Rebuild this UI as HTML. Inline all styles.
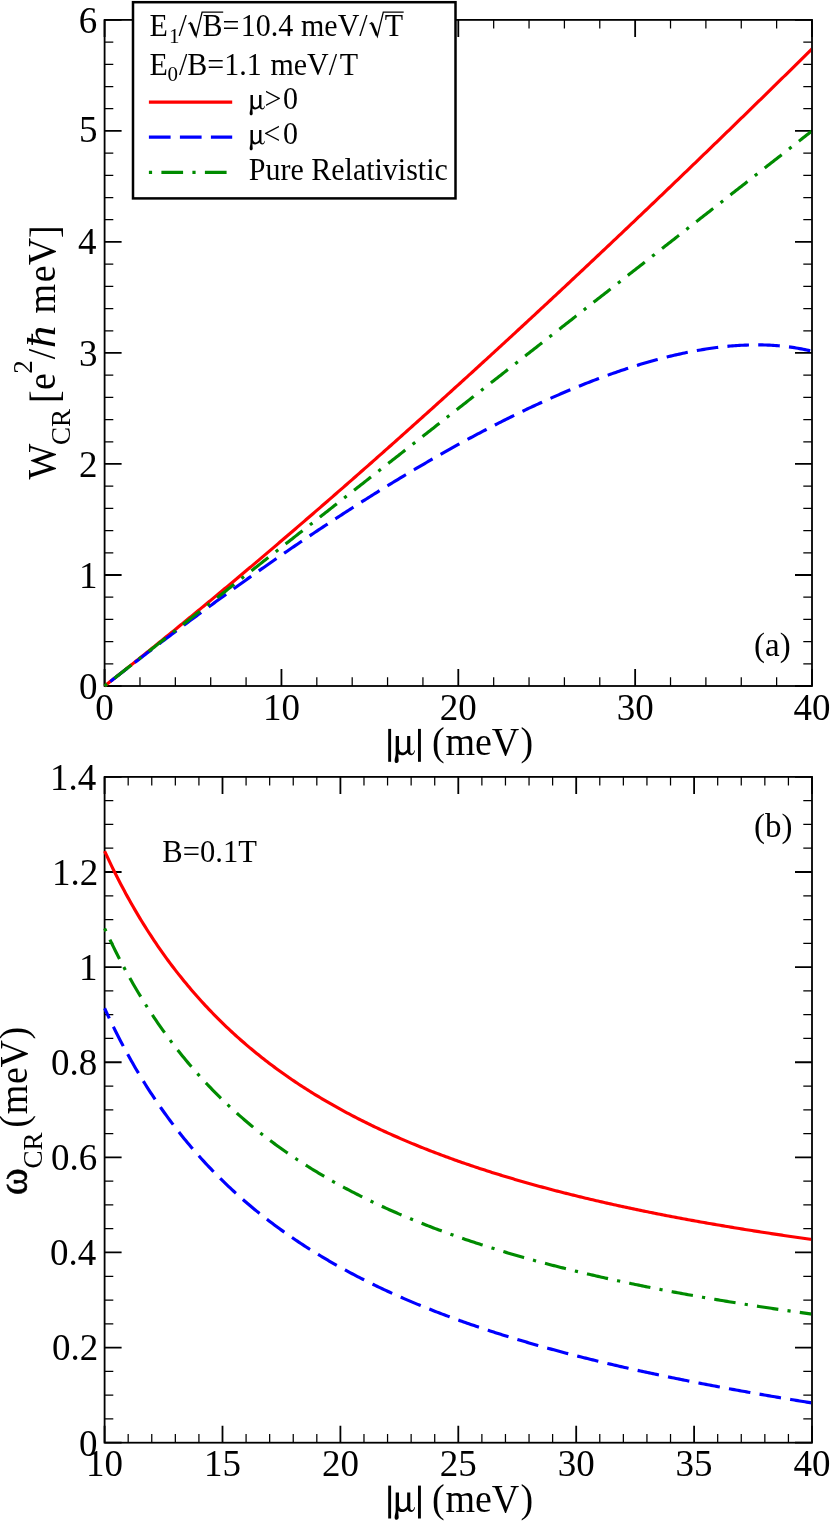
<!DOCTYPE html>
<html><head><meta charset="utf-8"><title>chart</title>
<style>html,body{margin:0;padding:0;background:#fff;}body{width:830px;height:1523px;overflow:hidden;}svg{display:block;will-change:transform;}text{font-family:"Liberation Serif",serif;fill:#000;}</style>
</head><body>
<svg width="830" height="1523" viewBox="0 0 830 1523">
<rect x="0" y="0" width="830" height="1523" fill="#fff"/>
<defs><clipPath id="ca"><rect x="100.60" y="15.90" width="710.50" height="674.10"/></clipPath>
<clipPath id="cb"><rect x="100.60" y="772.90" width="710.50" height="673.80"/></clipPath></defs>
<path d="M139.97,686.00 L139.97,677.30 M139.97,19.90 L139.97,28.60 M175.34,686.00 L175.34,677.30 M175.34,19.90 L175.34,28.60 M210.71,686.00 L210.71,677.30 M210.71,19.90 L210.71,28.60 M246.08,686.00 L246.08,677.30 M246.08,19.90 L246.08,28.60 M316.82,686.00 L316.82,677.30 M316.82,19.90 L316.82,28.60 M352.19,686.00 L352.19,677.30 M352.19,19.90 L352.19,28.60 M387.56,686.00 L387.56,677.30 M387.56,19.90 L387.56,28.60 M422.93,686.00 L422.93,677.30 M422.93,19.90 L422.93,28.60 M493.67,686.00 L493.67,677.30 M493.67,19.90 L493.67,28.60 M529.04,686.00 L529.04,677.30 M529.04,19.90 L529.04,28.60 M564.41,686.00 L564.41,677.30 M564.41,19.90 L564.41,28.60 M599.78,686.00 L599.78,677.30 M599.78,19.90 L599.78,28.60 M670.52,686.00 L670.52,677.30 M670.52,19.90 L670.52,28.60 M705.89,686.00 L705.89,677.30 M705.89,19.90 L705.89,28.60 M741.26,686.00 L741.26,677.30 M741.26,19.90 L741.26,28.60 M776.63,686.00 L776.63,677.30 M776.63,19.90 L776.63,28.60 M104.60,663.80 L113.30,663.80 M812.00,663.80 L803.30,663.80 M104.60,641.59 L113.30,641.59 M812.00,641.59 L803.30,641.59 M104.60,619.39 L113.30,619.39 M812.00,619.39 L803.30,619.39 M104.60,597.19 L113.30,597.19 M812.00,597.19 L803.30,597.19 M104.60,552.78 L113.30,552.78 M812.00,552.78 L803.30,552.78 M104.60,530.58 L113.30,530.58 M812.00,530.58 L803.30,530.58 M104.60,508.37 L113.30,508.37 M812.00,508.37 L803.30,508.37 M104.60,486.17 L113.30,486.17 M812.00,486.17 L803.30,486.17 M104.60,441.76 L113.30,441.76 M812.00,441.76 L803.30,441.76 M104.60,419.56 L113.30,419.56 M812.00,419.56 L803.30,419.56 M104.60,397.36 L113.30,397.36 M812.00,397.36 L803.30,397.36 M104.60,375.15 L113.30,375.15 M812.00,375.15 L803.30,375.15 M104.60,330.75 L113.30,330.75 M812.00,330.75 L803.30,330.75 M104.60,308.54 L113.30,308.54 M812.00,308.54 L803.30,308.54 M104.60,286.34 L113.30,286.34 M812.00,286.34 L803.30,286.34 M104.60,264.14 L113.30,264.14 M812.00,264.14 L803.30,264.14 M104.60,219.73 L113.30,219.73 M812.00,219.73 L803.30,219.73 M104.60,197.53 L113.30,197.53 M812.00,197.53 L803.30,197.53 M104.60,175.32 L113.30,175.32 M812.00,175.32 L803.30,175.32 M104.60,153.12 L113.30,153.12 M812.00,153.12 L803.30,153.12 M104.60,108.71 L113.30,108.71 M812.00,108.71 L803.30,108.71 M104.60,86.51 L113.30,86.51 M812.00,86.51 L803.30,86.51 M104.60,64.31 L113.30,64.31 M812.00,64.31 L803.30,64.31 M104.60,42.10 L113.30,42.10 M812.00,42.10 L803.30,42.10" stroke="#000" stroke-width="1.25" fill="none"/>
<path d="M104.60,686.00 L104.60,669.00 M104.60,19.90 L104.60,36.90 M281.45,686.00 L281.45,669.00 M281.45,19.90 L281.45,36.90 M458.30,686.00 L458.30,669.00 M458.30,19.90 L458.30,36.90 M635.15,686.00 L635.15,669.00 M635.15,19.90 L635.15,36.90 M812.00,686.00 L812.00,669.00 M812.00,19.90 L812.00,36.90 M104.60,686.00 L121.60,686.00 M812.00,686.00 L795.00,686.00 M104.60,574.98 L121.60,574.98 M812.00,574.98 L795.00,574.98 M104.60,463.97 L121.60,463.97 M812.00,463.97 L795.00,463.97 M104.60,352.95 L121.60,352.95 M812.00,352.95 L795.00,352.95 M104.60,241.93 L121.60,241.93 M812.00,241.93 L795.00,241.93 M104.60,130.92 L121.60,130.92 M812.00,130.92 L795.00,130.92 M104.60,19.90 L121.60,19.90 M812.00,19.90 L795.00,19.90" stroke="#000" stroke-width="1.80" fill="none"/>
<rect x="104.60" y="19.90" width="707.40" height="666.10" fill="none" stroke="#000" stroke-width="1.80"/>
<path d="M128.18,1442.70 L128.18,1434.00 M128.18,776.90 L128.18,785.60 M151.76,1442.70 L151.76,1434.00 M151.76,776.90 L151.76,785.60 M175.34,1442.70 L175.34,1434.00 M175.34,776.90 L175.34,785.60 M198.92,1442.70 L198.92,1434.00 M198.92,776.90 L198.92,785.60 M246.08,1442.70 L246.08,1434.00 M246.08,776.90 L246.08,785.60 M269.66,1442.70 L269.66,1434.00 M269.66,776.90 L269.66,785.60 M293.24,1442.70 L293.24,1434.00 M293.24,776.90 L293.24,785.60 M316.82,1442.70 L316.82,1434.00 M316.82,776.90 L316.82,785.60 M363.98,1442.70 L363.98,1434.00 M363.98,776.90 L363.98,785.60 M387.56,1442.70 L387.56,1434.00 M387.56,776.90 L387.56,785.60 M411.14,1442.70 L411.14,1434.00 M411.14,776.90 L411.14,785.60 M434.72,1442.70 L434.72,1434.00 M434.72,776.90 L434.72,785.60 M481.88,1442.70 L481.88,1434.00 M481.88,776.90 L481.88,785.60 M505.46,1442.70 L505.46,1434.00 M505.46,776.90 L505.46,785.60 M529.04,1442.70 L529.04,1434.00 M529.04,776.90 L529.04,785.60 M552.62,1442.70 L552.62,1434.00 M552.62,776.90 L552.62,785.60 M599.78,1442.70 L599.78,1434.00 M599.78,776.90 L599.78,785.60 M623.36,1442.70 L623.36,1434.00 M623.36,776.90 L623.36,785.60 M646.94,1442.70 L646.94,1434.00 M646.94,776.90 L646.94,785.60 M670.52,1442.70 L670.52,1434.00 M670.52,776.90 L670.52,785.60 M717.68,1442.70 L717.68,1434.00 M717.68,776.90 L717.68,785.60 M741.26,1442.70 L741.26,1434.00 M741.26,776.90 L741.26,785.60 M764.84,1442.70 L764.84,1434.00 M764.84,776.90 L764.84,785.60 M788.42,1442.70 L788.42,1434.00 M788.42,776.90 L788.42,785.60 M104.60,1418.92 L113.30,1418.92 M812.00,1418.92 L803.30,1418.92 M104.60,1395.14 L113.30,1395.14 M812.00,1395.14 L803.30,1395.14 M104.60,1371.36 L113.30,1371.36 M812.00,1371.36 L803.30,1371.36 M104.60,1323.81 L113.30,1323.81 M812.00,1323.81 L803.30,1323.81 M104.60,1300.03 L113.30,1300.03 M812.00,1300.03 L803.30,1300.03 M104.60,1276.25 L113.30,1276.25 M812.00,1276.25 L803.30,1276.25 M104.60,1228.69 L113.30,1228.69 M812.00,1228.69 L803.30,1228.69 M104.60,1204.91 L113.30,1204.91 M812.00,1204.91 L803.30,1204.91 M104.60,1181.14 L113.30,1181.14 M812.00,1181.14 L803.30,1181.14 M104.60,1133.58 L113.30,1133.58 M812.00,1133.58 L803.30,1133.58 M104.60,1109.80 L113.30,1109.80 M812.00,1109.80 L803.30,1109.80 M104.60,1086.02 L113.30,1086.02 M812.00,1086.02 L803.30,1086.02 M104.60,1038.46 L113.30,1038.46 M812.00,1038.46 L803.30,1038.46 M104.60,1014.69 L113.30,1014.69 M812.00,1014.69 L803.30,1014.69 M104.60,990.91 L113.30,990.91 M812.00,990.91 L803.30,990.91 M104.60,943.35 L113.30,943.35 M812.00,943.35 L803.30,943.35 M104.60,919.57 L113.30,919.57 M812.00,919.57 L803.30,919.57 M104.60,895.79 L113.30,895.79 M812.00,895.79 L803.30,895.79 M104.60,848.24 L113.30,848.24 M812.00,848.24 L803.30,848.24 M104.60,824.46 L113.30,824.46 M812.00,824.46 L803.30,824.46 M104.60,800.68 L113.30,800.68 M812.00,800.68 L803.30,800.68" stroke="#000" stroke-width="1.25" fill="none"/>
<path d="M104.60,1442.70 L104.60,1425.70 M104.60,776.90 L104.60,793.90 M222.50,1442.70 L222.50,1425.70 M222.50,776.90 L222.50,793.90 M340.40,1442.70 L340.40,1425.70 M340.40,776.90 L340.40,793.90 M458.30,1442.70 L458.30,1425.70 M458.30,776.90 L458.30,793.90 M576.20,1442.70 L576.20,1425.70 M576.20,776.90 L576.20,793.90 M694.10,1442.70 L694.10,1425.70 M694.10,776.90 L694.10,793.90 M812.00,1442.70 L812.00,1425.70 M812.00,776.90 L812.00,793.90 M104.60,1442.70 L121.60,1442.70 M812.00,1442.70 L795.00,1442.70 M104.60,1347.59 L121.60,1347.59 M812.00,1347.59 L795.00,1347.59 M104.60,1252.47 L121.60,1252.47 M812.00,1252.47 L795.00,1252.47 M104.60,1157.36 L121.60,1157.36 M812.00,1157.36 L795.00,1157.36 M104.60,1062.24 L121.60,1062.24 M812.00,1062.24 L795.00,1062.24 M104.60,967.13 L121.60,967.13 M812.00,967.13 L795.00,967.13 M104.60,872.01 L121.60,872.01 M812.00,872.01 L795.00,872.01 M104.60,776.90 L121.60,776.90 M812.00,776.90 L795.00,776.90" stroke="#000" stroke-width="1.80" fill="none"/>
<rect x="104.60" y="776.90" width="707.40" height="665.80" fill="none" stroke="#000" stroke-width="1.80"/>
<path d="M104.60,686.00 L106.37,684.61 L108.14,683.22 L109.91,681.83 L111.67,680.44 L113.44,679.04 L115.21,677.65 L116.98,676.25 L118.75,674.85 L120.52,673.45 L122.28,672.05 L124.05,670.65 L125.82,669.25 L127.59,667.84 L129.36,666.44 L131.13,665.03 L132.90,663.62 L134.66,662.21 L136.43,660.80 L138.20,659.38 L139.97,657.97 L141.74,656.55 L143.51,655.14 L145.28,653.72 L147.04,652.30 L148.81,650.88 L150.58,649.45 L152.35,648.03 L154.12,646.61 L155.89,645.18 L157.66,643.75 L159.42,642.32 L161.19,640.89 L162.96,639.46 L164.73,638.03 L166.50,636.60 L168.27,635.16 L170.03,633.72 L171.80,632.29 L173.57,630.85 L175.34,629.41 L177.11,627.96 L178.88,626.52 L180.65,625.08 L182.41,623.63 L184.18,622.19 L185.95,620.74 L187.72,619.29 L189.49,617.84 L191.26,616.39 L193.02,614.93 L194.79,613.48 L196.56,612.03 L198.33,610.57 L200.10,609.11 L201.87,607.65 L203.64,606.19 L205.40,604.73 L207.17,603.27 L208.94,601.81 L210.71,600.34 L212.48,598.88 L214.25,597.41 L216.02,595.94 L217.78,594.47 L219.55,593.00 L221.32,591.53 L223.09,590.05 L224.86,588.58 L226.63,587.11 L228.39,585.63 L230.16,584.15 L231.93,582.67 L233.70,581.19 L235.47,579.71 L237.24,578.23 L239.01,576.75 L240.77,575.26 L242.54,573.78 L244.31,572.29 L246.08,570.80 L247.85,569.31 L249.62,567.82 L251.39,566.33 L253.15,564.84 L254.92,563.34 L256.69,561.85 L258.46,560.35 L260.23,558.86 L262.00,557.36 L263.76,555.86 L265.53,554.36 L267.30,552.86 L269.07,551.36 L270.84,549.85 L272.61,548.35 L274.38,546.84 L276.14,545.34 L277.91,543.83 L279.68,542.32 L281.45,540.81 L283.22,539.30 L284.99,537.79 L286.76,536.27 L288.52,534.76 L290.29,533.24 L292.06,531.73 L293.83,530.21 L295.60,528.69 L297.37,527.17 L299.13,525.65 L300.90,524.13 L302.67,522.61 L304.44,521.09 L306.21,519.56 L307.98,518.04 L309.75,516.51 L311.51,514.98 L313.28,513.45 L315.05,511.92 L316.82,510.39 L318.59,508.86 L320.36,507.33 L322.13,505.79 L323.89,504.26 L325.66,502.72 L327.43,501.19 L329.20,499.65 L330.97,498.11 L332.74,496.57 L334.50,495.03 L336.27,493.49 L338.04,491.94 L339.81,490.40 L341.58,488.86 L343.35,487.31 L345.12,485.76 L346.88,484.22 L348.65,482.67 L350.42,481.12 L352.19,479.57 L353.96,478.01 L355.73,476.46 L357.50,474.91 L359.26,473.35 L361.03,471.80 L362.80,470.24 L364.57,468.68 L366.34,467.13 L368.11,465.57 L369.88,464.01 L371.64,462.45 L373.41,460.88 L375.18,459.32 L376.95,457.76 L378.72,456.19 L380.49,454.63 L382.25,453.06 L384.02,451.49 L385.79,449.92 L387.56,448.35 L389.33,446.78 L391.10,445.21 L392.87,443.64 L394.63,442.07 L396.40,440.49 L398.17,438.92 L399.94,437.34 L401.71,435.76 L403.48,434.19 L405.25,432.61 L407.01,431.03 L408.78,429.45 L410.55,427.87 L412.32,426.28 L414.09,424.70 L415.86,423.12 L417.62,421.53 L419.39,419.94 L421.16,418.36 L422.93,416.77 L424.70,415.18 L426.47,413.59 L428.24,412.00 L430.00,410.41 L431.77,408.82 L433.54,407.23 L435.31,405.63 L437.08,404.04 L438.85,402.44 L440.62,400.84 L442.38,399.25 L444.15,397.65 L445.92,396.05 L447.69,394.45 L449.46,392.85 L451.23,391.25 L452.99,389.65 L454.76,388.04 L456.53,386.44 L458.30,384.83 L460.07,383.23 L461.84,381.62 L463.61,380.01 L465.37,378.40 L467.14,376.80 L468.91,375.19 L470.68,373.57 L472.45,371.96 L474.22,370.35 L475.99,368.74 L477.75,367.12 L479.52,365.51 L481.29,363.89 L483.06,362.27 L484.83,360.66 L486.60,359.04 L488.36,357.42 L490.13,355.80 L491.90,354.18 L493.67,352.56 L495.44,350.94 L497.21,349.31 L498.98,347.69 L500.74,346.06 L502.51,344.44 L504.28,342.81 L506.05,341.18 L507.82,339.56 L509.59,337.93 L511.35,336.30 L513.12,334.67 L514.89,333.04 L516.66,331.40 L518.43,329.77 L520.20,328.14 L521.97,326.50 L523.73,324.87 L525.50,323.23 L527.27,321.60 L529.04,319.96 L530.81,318.32 L532.58,316.68 L534.35,315.04 L536.11,313.40 L537.88,311.76 L539.65,310.12 L541.42,308.47 L543.19,306.83 L544.96,305.19 L546.73,303.54 L548.49,301.89 L550.26,300.25 L552.03,298.60 L553.80,296.95 L555.57,295.30 L557.34,293.65 L559.10,292.00 L560.87,290.35 L562.64,288.70 L564.41,287.05 L566.18,285.39 L567.95,283.74 L569.72,282.08 L571.48,280.43 L573.25,278.77 L575.02,277.12 L576.79,275.46 L578.56,273.80 L580.33,272.14 L582.10,270.48 L583.86,268.82 L585.63,267.16 L587.40,265.49 L589.17,263.83 L590.94,262.17 L592.71,260.50 L594.47,258.84 L596.24,257.17 L598.01,255.51 L599.78,253.84 L601.55,252.17 L603.32,250.50 L605.09,248.83 L606.85,247.16 L608.62,245.49 L610.39,243.82 L612.16,242.15 L613.93,240.47 L615.70,238.80 L617.47,237.13 L619.23,235.45 L621.00,233.77 L622.77,232.10 L624.54,230.42 L626.31,228.74 L628.08,227.06 L629.84,225.38 L631.61,223.70 L633.38,222.02 L635.15,220.34 L636.92,218.66 L638.69,216.98 L640.46,215.29 L642.22,213.61 L643.99,211.92 L645.76,210.24 L647.53,208.55 L649.30,206.87 L651.07,205.18 L652.84,203.49 L654.60,201.80 L656.37,200.11 L658.14,198.42 L659.91,196.73 L661.68,195.04 L663.45,193.34 L665.21,191.65 L666.98,189.96 L668.75,188.26 L670.52,186.57 L672.29,184.87 L674.06,183.18 L675.83,181.48 L677.59,179.78 L679.36,178.08 L681.13,176.38 L682.90,174.68 L684.67,172.98 L686.44,171.28 L688.20,169.58 L689.97,167.88 L691.74,166.18 L693.51,164.47 L695.28,162.77 L697.05,161.06 L698.82,159.36 L700.58,157.65 L702.35,155.95 L704.12,154.24 L705.89,152.53 L707.66,150.82 L709.43,149.11 L711.20,147.40 L712.96,145.69 L714.73,143.98 L716.50,142.27 L718.27,140.56 L720.04,138.84 L721.81,137.13 L723.58,135.41 L725.34,133.70 L727.11,131.98 L728.88,130.27 L730.65,128.55 L732.42,126.83 L734.19,125.11 L735.95,123.39 L737.72,121.67 L739.49,119.95 L741.26,118.23 L743.03,116.51 L744.80,114.79 L746.57,113.07 L748.33,111.35 L750.10,109.62 L751.87,107.90 L753.64,106.17 L755.41,104.45 L757.18,102.72 L758.95,100.99 L760.71,99.27 L762.48,97.54 L764.25,95.81 L766.02,94.08 L767.79,92.35 L769.56,90.62 L771.32,88.89 L773.09,87.16 L774.86,85.42 L776.63,83.69 L778.40,81.96 L780.17,80.22 L781.94,78.49 L783.70,76.75 L785.47,75.02 L787.24,73.28 L789.01,71.54 L790.78,69.81 L792.55,68.07 L794.31,66.33 L796.08,64.59 L797.85,62.85 L799.62,61.11 L801.39,59.37 L803.16,57.63 L804.93,55.88 L806.69,54.14 L808.46,52.40 L810.23,50.65 L812.00,48.91" fill="none" stroke="#ff0000" stroke-width="3.15" clip-path="url(#ca)"/>
<path d="M104.60,686.00 L106.37,684.61 L108.14,683.23 L109.91,681.84 L111.67,680.46 L113.44,679.08 L115.21,677.70 L116.98,676.32 L118.75,674.94 L120.52,673.57 L122.28,672.19 L124.05,670.82 L125.82,669.45 L127.59,668.08 L129.36,666.71 L131.13,665.35 L132.90,663.98 L134.66,662.62 L136.43,661.25 L138.20,659.89 L139.97,658.53 L141.74,657.18 L143.51,655.82 L145.28,654.46 L147.04,653.11 L148.81,651.76 L150.58,650.41 L152.35,649.06 L154.12,647.71 L155.89,646.37 L157.66,645.02 L159.42,643.68 L161.19,642.34 L162.96,641.00 L164.73,639.66 L166.50,638.33 L168.27,636.99 L170.03,635.66 L171.80,634.33 L173.57,633.00 L175.34,631.67 L177.11,630.34 L178.88,629.02 L180.65,627.69 L182.41,626.37 L184.18,625.05 L185.95,623.73 L187.72,622.42 L189.49,621.10 L191.26,619.79 L193.02,618.47 L194.79,617.16 L196.56,615.86 L198.33,614.55 L200.10,613.24 L201.87,611.94 L203.64,610.64 L205.40,609.34 L207.17,608.04 L208.94,606.74 L210.71,605.45 L212.48,604.15 L214.25,602.86 L216.02,601.57 L217.78,600.28 L219.55,599.00 L221.32,597.71 L223.09,596.43 L224.86,595.15 L226.63,593.87 L228.39,592.59 L230.16,591.31 L231.93,590.04 L233.70,588.77 L235.47,587.50 L237.24,586.23 L239.01,584.96 L240.77,583.69 L242.54,582.43 L244.31,581.17 L246.08,579.91 L247.85,578.65 L249.62,577.40 L251.39,576.14 L253.15,574.89 L254.92,573.64 L256.69,572.39 L258.46,571.14 L260.23,569.90 L262.00,568.66 L263.76,567.41 L265.53,566.17 L267.30,564.94 L269.07,563.70 L270.84,562.47 L272.61,561.24 L274.38,560.01 L276.14,558.78 L277.91,557.56 L279.68,556.33 L281.45,555.11 L283.22,553.89 L284.99,552.67 L286.76,551.46 L288.52,550.24 L290.29,549.03 L292.06,547.82 L293.83,546.61 L295.60,545.41 L297.37,544.21 L299.13,543.00 L300.90,541.81 L302.67,540.61 L304.44,539.41 L306.21,538.22 L307.98,537.03 L309.75,535.84 L311.51,534.65 L313.28,533.47 L315.05,532.29 L316.82,531.11 L318.59,529.93 L320.36,528.75 L322.13,527.58 L323.89,526.41 L325.66,525.24 L327.43,524.07 L329.20,522.90 L330.97,521.74 L332.74,520.58 L334.50,519.42 L336.27,518.26 L338.04,517.11 L339.81,515.96 L341.58,514.81 L343.35,513.66 L345.12,512.52 L346.88,511.37 L348.65,510.23 L350.42,509.10 L352.19,507.96 L353.96,506.83 L355.73,505.70 L357.50,504.57 L359.26,503.44 L361.03,502.32 L362.80,501.20 L364.57,500.08 L366.34,498.96 L368.11,497.85 L369.88,496.73 L371.64,495.62 L373.41,494.52 L375.18,493.41 L376.95,492.31 L378.72,491.21 L380.49,490.11 L382.25,489.02 L384.02,487.93 L385.79,486.84 L387.56,485.75 L389.33,484.67 L391.10,483.58 L392.87,482.50 L394.63,481.43 L396.40,480.35 L398.17,479.28 L399.94,478.21 L401.71,477.15 L403.48,476.08 L405.25,475.02 L407.01,473.96 L408.78,472.91 L410.55,471.85 L412.32,470.80 L414.09,469.76 L415.86,468.71 L417.62,467.67 L419.39,466.63 L421.16,465.59 L422.93,464.56 L424.70,463.53 L426.47,462.50 L428.24,461.47 L430.00,460.45 L431.77,459.43 L433.54,458.42 L435.31,457.40 L437.08,456.39 L438.85,455.38 L440.62,454.38 L442.38,453.38 L444.15,452.38 L445.92,451.38 L447.69,450.39 L449.46,449.40 L451.23,448.41 L452.99,447.42 L454.76,446.44 L456.53,445.46 L458.30,444.49 L460.07,443.52 L461.84,442.55 L463.61,441.58 L465.37,440.62 L467.14,439.66 L468.91,438.70 L470.68,437.75 L472.45,436.80 L474.22,435.85 L475.99,434.91 L477.75,433.97 L479.52,433.03 L481.29,432.10 L483.06,431.17 L484.83,430.24 L486.60,429.32 L488.36,428.40 L490.13,427.48 L491.90,426.57 L493.67,425.66 L495.44,424.75 L497.21,423.85 L498.98,422.95 L500.74,422.05 L502.51,421.16 L504.28,420.27 L506.05,419.38 L507.82,418.50 L509.59,417.62 L511.35,416.75 L513.12,415.87 L514.89,415.01 L516.66,414.14 L518.43,413.28 L520.20,412.43 L521.97,411.57 L523.73,410.72 L525.50,409.88 L527.27,409.04 L529.04,408.20 L530.81,407.37 L532.58,406.54 L534.35,405.71 L536.11,404.89 L537.88,404.07 L539.65,403.26 L541.42,402.45 L543.19,401.64 L544.96,400.84 L546.73,400.04 L548.49,399.25 L550.26,398.46 L552.03,397.67 L553.80,396.89 L555.57,396.11 L557.34,395.34 L559.10,394.57 L560.87,393.80 L562.64,393.04 L564.41,392.29 L566.18,391.54 L567.95,390.79 L569.72,390.05 L571.48,389.31 L573.25,388.58 L575.02,387.85 L576.79,387.12 L578.56,386.40 L580.33,385.69 L582.10,384.97 L583.86,384.27 L585.63,383.57 L587.40,382.87 L589.17,382.18 L590.94,381.49 L592.71,380.81 L594.47,380.13 L596.24,379.46 L598.01,378.79 L599.78,378.13 L601.55,377.47 L603.32,376.82 L605.09,376.17 L606.85,375.53 L608.62,374.89 L610.39,374.26 L612.16,373.63 L613.93,373.01 L615.70,372.39 L617.47,371.78 L619.23,371.17 L621.00,370.57 L622.77,369.98 L624.54,369.39 L626.31,368.80 L628.08,368.23 L629.84,367.65 L631.61,367.09 L633.38,366.53 L635.15,365.97 L636.92,365.42 L638.69,364.88 L640.46,364.34 L642.22,363.81 L643.99,363.28 L645.76,362.76 L647.53,362.25 L649.30,361.74 L651.07,361.24 L652.84,360.74 L654.60,360.25 L656.37,359.77 L658.14,359.29 L659.91,358.82 L661.68,358.36 L663.45,357.90 L665.21,357.45 L666.98,357.01 L668.75,356.57 L670.52,356.14 L672.29,355.72 L674.06,355.30 L675.83,354.89 L677.59,354.49 L679.36,354.09 L681.13,353.70 L682.90,353.32 L684.67,352.95 L686.44,352.58 L688.20,352.22 L689.97,351.87 L691.74,351.53 L693.51,351.19 L695.28,350.86 L697.05,350.54 L698.82,350.23 L700.58,349.93 L702.35,349.63 L704.12,349.34 L705.89,349.06 L707.66,348.79 L709.43,348.52 L711.20,348.27 L712.96,348.02 L714.73,347.78 L716.50,347.55 L718.27,347.33 L720.04,347.12 L721.81,346.91 L723.58,346.72 L725.34,346.53 L727.11,346.36 L728.88,346.19 L730.65,346.03 L732.42,345.88 L734.19,345.75 L735.95,345.62 L737.72,345.50 L739.49,345.39 L741.26,345.29 L743.03,345.20 L744.80,345.12 L746.57,345.06 L748.33,345.00 L750.10,344.95 L751.87,344.92 L753.64,344.89 L755.41,344.88 L757.18,344.88 L758.95,344.89 L760.71,344.91 L762.48,344.94 L764.25,344.98 L766.02,345.04 L767.79,345.10 L769.56,345.18 L771.32,345.28 L773.09,345.38 L774.86,345.50 L776.63,345.63 L778.40,345.77 L780.17,345.93 L781.94,346.10 L783.70,346.28 L785.47,346.48 L787.24,346.69 L789.01,346.92 L790.78,347.16 L792.55,347.41 L794.31,347.68 L796.08,347.96 L797.85,348.26 L799.62,348.58 L801.39,348.91 L803.16,349.25 L804.93,349.62 L806.69,350.00 L808.46,350.39 L810.23,350.81 L812.00,351.24" fill="none" stroke="#0000ff" stroke-width="3.15" stroke-dasharray="21.6,9.26" stroke-dashoffset="23.60" clip-path="url(#ca)"/>
<path d="M104.60,686.00 L106.37,684.61 L108.14,683.22 L109.91,681.84 L111.67,680.45 L113.44,679.06 L115.21,677.67 L116.98,676.29 L118.75,674.90 L120.52,673.51 L122.28,672.12 L124.05,670.74 L125.82,669.35 L127.59,667.96 L129.36,666.57 L131.13,665.18 L132.90,663.80 L134.66,662.41 L136.43,661.02 L138.20,659.63 L139.97,658.25 L141.74,656.86 L143.51,655.47 L145.28,654.08 L147.04,652.70 L148.81,651.31 L150.58,649.92 L152.35,648.53 L154.12,647.14 L155.89,645.76 L157.66,644.37 L159.42,642.98 L161.19,641.59 L162.96,640.21 L164.73,638.82 L166.50,637.43 L168.27,636.04 L170.03,634.65 L171.80,633.27 L173.57,631.88 L175.34,630.49 L177.11,629.10 L178.88,627.72 L180.65,626.33 L182.41,624.94 L184.18,623.55 L185.95,622.17 L187.72,620.78 L189.49,619.39 L191.26,618.00 L193.02,616.61 L194.79,615.23 L196.56,613.84 L198.33,612.45 L200.10,611.06 L201.87,609.68 L203.64,608.29 L205.40,606.90 L207.17,605.51 L208.94,604.13 L210.71,602.74 L212.48,601.35 L214.25,599.96 L216.02,598.57 L217.78,597.19 L219.55,595.80 L221.32,594.41 L223.09,593.02 L224.86,591.64 L226.63,590.25 L228.39,588.86 L230.16,587.47 L231.93,586.09 L233.70,584.70 L235.47,583.31 L237.24,581.92 L239.01,580.53 L240.77,579.15 L242.54,577.76 L244.31,576.37 L246.08,574.98 L247.85,573.60 L249.62,572.21 L251.39,570.82 L253.15,569.43 L254.92,568.04 L256.69,566.66 L258.46,565.27 L260.23,563.88 L262.00,562.49 L263.76,561.11 L265.53,559.72 L267.30,558.33 L269.07,556.94 L270.84,555.56 L272.61,554.17 L274.38,552.78 L276.14,551.39 L277.91,550.00 L279.68,548.62 L281.45,547.23 L283.22,545.84 L284.99,544.45 L286.76,543.07 L288.52,541.68 L290.29,540.29 L292.06,538.90 L293.83,537.52 L295.60,536.13 L297.37,534.74 L299.13,533.35 L300.90,531.96 L302.67,530.58 L304.44,529.19 L306.21,527.80 L307.98,526.41 L309.75,525.03 L311.51,523.64 L313.28,522.25 L315.05,520.86 L316.82,519.48 L318.59,518.09 L320.36,516.70 L322.13,515.31 L323.89,513.92 L325.66,512.54 L327.43,511.15 L329.20,509.76 L330.97,508.37 L332.74,506.99 L334.50,505.60 L336.27,504.21 L338.04,502.82 L339.81,501.43 L341.58,500.05 L343.35,498.66 L345.12,497.27 L346.88,495.88 L348.65,494.50 L350.42,493.11 L352.19,491.72 L353.96,490.33 L355.73,488.95 L357.50,487.56 L359.26,486.17 L361.03,484.78 L362.80,483.39 L364.57,482.01 L366.34,480.62 L368.11,479.23 L369.88,477.84 L371.64,476.46 L373.41,475.07 L375.18,473.68 L376.95,472.29 L378.72,470.91 L380.49,469.52 L382.25,468.13 L384.02,466.74 L385.79,465.35 L387.56,463.97 L389.33,462.58 L391.10,461.19 L392.87,459.80 L394.63,458.42 L396.40,457.03 L398.17,455.64 L399.94,454.25 L401.71,452.87 L403.48,451.48 L405.25,450.09 L407.01,448.70 L408.78,447.31 L410.55,445.93 L412.32,444.54 L414.09,443.15 L415.86,441.76 L417.62,440.38 L419.39,438.99 L421.16,437.60 L422.93,436.21 L424.70,434.82 L426.47,433.44 L428.24,432.05 L430.00,430.66 L431.77,429.27 L433.54,427.89 L435.31,426.50 L437.08,425.11 L438.85,423.72 L440.62,422.34 L442.38,420.95 L444.15,419.56 L445.92,418.17 L447.69,416.78 L449.46,415.40 L451.23,414.01 L452.99,412.62 L454.76,411.23 L456.53,409.85 L458.30,408.46 L460.07,407.07 L461.84,405.68 L463.61,404.30 L465.37,402.91 L467.14,401.52 L468.91,400.13 L470.68,398.74 L472.45,397.36 L474.22,395.97 L475.99,394.58 L477.75,393.19 L479.52,391.81 L481.29,390.42 L483.06,389.03 L484.83,387.64 L486.60,386.25 L488.36,384.87 L490.13,383.48 L491.90,382.09 L493.67,380.70 L495.44,379.32 L497.21,377.93 L498.98,376.54 L500.74,375.15 L502.51,373.77 L504.28,372.38 L506.05,370.99 L507.82,369.60 L509.59,368.21 L511.35,366.83 L513.12,365.44 L514.89,364.05 L516.66,362.66 L518.43,361.28 L520.20,359.89 L521.97,358.50 L523.73,357.11 L525.50,355.73 L527.27,354.34 L529.04,352.95 L530.81,351.56 L532.58,350.17 L534.35,348.79 L536.11,347.40 L537.88,346.01 L539.65,344.62 L541.42,343.24 L543.19,341.85 L544.96,340.46 L546.73,339.07 L548.49,337.69 L550.26,336.30 L552.03,334.91 L553.80,333.52 L555.57,332.13 L557.34,330.75 L559.10,329.36 L560.87,327.97 L562.64,326.58 L564.41,325.20 L566.18,323.81 L567.95,322.42 L569.72,321.03 L571.48,319.65 L573.25,318.26 L575.02,316.87 L576.79,315.48 L578.56,314.09 L580.33,312.71 L582.10,311.32 L583.86,309.93 L585.63,308.54 L587.40,307.16 L589.17,305.77 L590.94,304.38 L592.71,302.99 L594.47,301.60 L596.24,300.22 L598.01,298.83 L599.78,297.44 L601.55,296.05 L603.32,294.67 L605.09,293.28 L606.85,291.89 L608.62,290.50 L610.39,289.12 L612.16,287.73 L613.93,286.34 L615.70,284.95 L617.47,283.56 L619.23,282.18 L621.00,280.79 L622.77,279.40 L624.54,278.01 L626.31,276.63 L628.08,275.24 L629.84,273.85 L631.61,272.46 L633.38,271.08 L635.15,269.69 L636.92,268.30 L638.69,266.91 L640.46,265.52 L642.22,264.14 L643.99,262.75 L645.76,261.36 L647.53,259.97 L649.30,258.59 L651.07,257.20 L652.84,255.81 L654.60,254.42 L656.37,253.03 L658.14,251.65 L659.91,250.26 L661.68,248.87 L663.45,247.48 L665.21,246.10 L666.98,244.71 L668.75,243.32 L670.52,241.93 L672.29,240.55 L674.06,239.16 L675.83,237.77 L677.59,236.38 L679.36,234.99 L681.13,233.61 L682.90,232.22 L684.67,230.83 L686.44,229.44 L688.20,228.06 L689.97,226.67 L691.74,225.28 L693.51,223.89 L695.28,222.51 L697.05,221.12 L698.82,219.73 L700.58,218.34 L702.35,216.95 L704.12,215.57 L705.89,214.18 L707.66,212.79 L709.43,211.40 L711.20,210.02 L712.96,208.63 L714.73,207.24 L716.50,205.85 L718.27,204.47 L720.04,203.08 L721.81,201.69 L723.58,200.30 L725.34,198.91 L727.11,197.53 L728.88,196.14 L730.65,194.75 L732.42,193.36 L734.19,191.98 L735.95,190.59 L737.72,189.20 L739.49,187.81 L741.26,186.42 L743.03,185.04 L744.80,183.65 L746.57,182.26 L748.33,180.87 L750.10,179.49 L751.87,178.10 L753.64,176.71 L755.41,175.32 L757.18,173.94 L758.95,172.55 L760.71,171.16 L762.48,169.77 L764.25,168.38 L766.02,167.00 L767.79,165.61 L769.56,164.22 L771.32,162.83 L773.09,161.45 L774.86,160.06 L776.63,158.67 L778.40,157.28 L780.17,155.90 L781.94,154.51 L783.70,153.12 L785.47,151.73 L787.24,150.34 L789.01,148.96 L790.78,147.57 L792.55,146.18 L794.31,144.79 L796.08,143.41 L797.85,142.02 L799.62,140.63 L801.39,139.24 L803.16,137.86 L804.93,136.47 L806.69,135.08 L808.46,133.69 L810.23,132.30 L812.00,130.92" fill="none" stroke="#008b00" stroke-width="3.15" stroke-dasharray="3.2,9.35,21.6,9.35" stroke-dashoffset="0.00" clip-path="url(#ca)"/>
<path d="M104.60,851.06 L106.37,854.90 L108.14,858.68 L109.91,862.41 L111.67,866.08 L113.44,869.70 L115.21,873.26 L116.98,876.78 L118.75,880.24 L120.52,883.66 L122.28,887.03 L124.05,890.35 L125.82,893.63 L127.59,896.87 L129.36,900.05 L131.13,903.20 L132.90,906.31 L134.66,909.37 L136.43,912.39 L138.20,915.37 L139.97,918.32 L141.74,921.22 L143.51,924.09 L145.28,926.93 L147.04,929.72 L148.81,932.48 L150.58,935.21 L152.35,937.90 L154.12,940.56 L155.89,943.19 L157.66,945.78 L159.42,948.35 L161.19,950.88 L162.96,953.38 L164.73,955.85 L166.50,958.30 L168.27,960.71 L170.03,963.10 L171.80,965.45 L173.57,967.78 L175.34,970.09 L177.11,972.37 L178.88,974.62 L180.65,976.84 L182.41,979.04 L184.18,981.22 L185.95,983.37 L187.72,985.50 L189.49,987.61 L191.26,989.69 L193.02,991.75 L194.79,993.79 L196.56,995.80 L198.33,997.79 L200.10,999.77 L201.87,1001.72 L203.64,1003.65 L205.40,1005.56 L207.17,1007.45 L208.94,1009.32 L210.71,1011.17 L212.48,1013.01 L214.25,1014.82 L216.02,1016.62 L217.78,1018.40 L219.55,1020.16 L221.32,1021.90 L223.09,1023.62 L224.86,1025.33 L226.63,1027.02 L228.39,1028.70 L230.16,1030.36 L231.93,1032.00 L233.70,1033.62 L235.47,1035.24 L237.24,1036.83 L239.01,1038.41 L240.77,1039.98 L242.54,1041.53 L244.31,1043.06 L246.08,1044.58 L247.85,1046.09 L249.62,1047.58 L251.39,1049.06 L253.15,1050.53 L254.92,1051.98 L256.69,1053.42 L258.46,1054.85 L260.23,1056.26 L262.00,1057.66 L263.76,1059.05 L265.53,1060.43 L267.30,1061.79 L269.07,1063.15 L270.84,1064.49 L272.61,1065.81 L274.38,1067.13 L276.14,1068.44 L277.91,1069.73 L279.68,1071.02 L281.45,1072.29 L283.22,1073.55 L284.99,1074.80 L286.76,1076.04 L288.52,1077.27 L290.29,1078.49 L292.06,1079.70 L293.83,1080.90 L295.60,1082.09 L297.37,1083.27 L299.13,1084.44 L300.90,1085.60 L302.67,1086.75 L304.44,1087.89 L306.21,1089.03 L307.98,1090.15 L309.75,1091.27 L311.51,1092.37 L313.28,1093.47 L315.05,1094.56 L316.82,1095.64 L318.59,1096.71 L320.36,1097.77 L322.13,1098.83 L323.89,1099.87 L325.66,1100.91 L327.43,1101.94 L329.20,1102.97 L330.97,1103.98 L332.74,1104.99 L334.50,1105.99 L336.27,1106.98 L338.04,1107.97 L339.81,1108.94 L341.58,1109.91 L343.35,1110.88 L345.12,1111.83 L346.88,1112.78 L348.65,1113.72 L350.42,1114.66 L352.19,1115.59 L353.96,1116.51 L355.73,1117.42 L357.50,1118.33 L359.26,1119.23 L361.03,1120.13 L362.80,1121.02 L364.57,1121.90 L366.34,1122.78 L368.11,1123.65 L369.88,1124.51 L371.64,1125.37 L373.41,1126.22 L375.18,1127.07 L376.95,1127.91 L378.72,1128.75 L380.49,1129.57 L382.25,1130.40 L384.02,1131.22 L385.79,1132.03 L387.56,1132.83 L389.33,1133.64 L391.10,1134.43 L392.87,1135.22 L394.63,1136.01 L396.40,1136.79 L398.17,1137.56 L399.94,1138.33 L401.71,1139.10 L403.48,1139.86 L405.25,1140.61 L407.01,1141.36 L408.78,1142.10 L410.55,1142.84 L412.32,1143.58 L414.09,1144.31 L415.86,1145.04 L417.62,1145.76 L419.39,1146.47 L421.16,1147.19 L422.93,1147.89 L424.70,1148.60 L426.47,1149.29 L428.24,1149.99 L430.00,1150.68 L431.77,1151.36 L433.54,1152.05 L435.31,1152.72 L437.08,1153.40 L438.85,1154.06 L440.62,1154.73 L442.38,1155.39 L444.15,1156.05 L445.92,1156.70 L447.69,1157.35 L449.46,1157.99 L451.23,1158.63 L452.99,1159.27 L454.76,1159.90 L456.53,1160.53 L458.30,1161.16 L460.07,1161.78 L461.84,1162.40 L463.61,1163.01 L465.37,1163.62 L467.14,1164.23 L468.91,1164.84 L470.68,1165.44 L472.45,1166.03 L474.22,1166.63 L475.99,1167.22 L477.75,1167.80 L479.52,1168.39 L481.29,1168.97 L483.06,1169.54 L484.83,1170.12 L486.60,1170.69 L488.36,1171.25 L490.13,1171.82 L491.90,1172.38 L493.67,1172.93 L495.44,1173.49 L497.21,1174.04 L498.98,1174.59 L500.74,1175.13 L502.51,1175.67 L504.28,1176.21 L506.05,1176.75 L507.82,1177.28 L509.59,1177.81 L511.35,1178.34 L513.12,1178.86 L514.89,1179.39 L516.66,1179.91 L518.43,1180.42 L520.20,1180.93 L521.97,1181.44 L523.73,1181.95 L525.50,1182.46 L527.27,1182.96 L529.04,1183.46 L530.81,1183.96 L532.58,1184.45 L534.35,1184.94 L536.11,1185.43 L537.88,1185.92 L539.65,1186.40 L541.42,1186.88 L543.19,1187.36 L544.96,1187.84 L546.73,1188.31 L548.49,1188.79 L550.26,1189.26 L552.03,1189.72 L553.80,1190.19 L555.57,1190.65 L557.34,1191.11 L559.10,1191.57 L560.87,1192.02 L562.64,1192.47 L564.41,1192.92 L566.18,1193.37 L567.95,1193.82 L569.72,1194.26 L571.48,1194.70 L573.25,1195.14 L575.02,1195.58 L576.79,1196.02 L578.56,1196.45 L580.33,1196.88 L582.10,1197.31 L583.86,1197.74 L585.63,1198.16 L587.40,1198.58 L589.17,1199.00 L590.94,1199.42 L592.71,1199.84 L594.47,1200.25 L596.24,1200.66 L598.01,1201.08 L599.78,1201.48 L601.55,1201.89 L603.32,1202.29 L605.09,1202.70 L606.85,1203.10 L608.62,1203.50 L610.39,1203.89 L612.16,1204.29 L613.93,1204.68 L615.70,1205.07 L617.47,1205.46 L619.23,1205.85 L621.00,1206.24 L622.77,1206.62 L624.54,1207.00 L626.31,1207.38 L628.08,1207.76 L629.84,1208.14 L631.61,1208.52 L633.38,1208.89 L635.15,1209.26 L636.92,1209.63 L638.69,1210.00 L640.46,1210.37 L642.22,1210.73 L643.99,1211.10 L645.76,1211.46 L647.53,1211.82 L649.30,1212.18 L651.07,1212.53 L652.84,1212.89 L654.60,1213.24 L656.37,1213.60 L658.14,1213.95 L659.91,1214.30 L661.68,1214.64 L663.45,1214.99 L665.21,1215.34 L666.98,1215.68 L668.75,1216.02 L670.52,1216.36 L672.29,1216.70 L674.06,1217.04 L675.83,1217.37 L677.59,1217.71 L679.36,1218.04 L681.13,1218.37 L682.90,1218.70 L684.67,1219.03 L686.44,1219.36 L688.20,1219.68 L689.97,1220.01 L691.74,1220.33 L693.51,1220.65 L695.28,1220.97 L697.05,1221.29 L698.82,1221.61 L700.58,1221.93 L702.35,1222.24 L704.12,1222.56 L705.89,1222.87 L707.66,1223.18 L709.43,1223.49 L711.20,1223.80 L712.96,1224.10 L714.73,1224.41 L716.50,1224.72 L718.27,1225.02 L720.04,1225.32 L721.81,1225.62 L723.58,1225.92 L725.34,1226.22 L727.11,1226.52 L728.88,1226.81 L730.65,1227.11 L732.42,1227.40 L734.19,1227.70 L735.95,1227.99 L737.72,1228.28 L739.49,1228.57 L741.26,1228.85 L743.03,1229.14 L744.80,1229.43 L746.57,1229.71 L748.33,1230.00 L750.10,1230.28 L751.87,1230.56 L753.64,1230.84 L755.41,1231.12 L757.18,1231.40 L758.95,1231.67 L760.71,1231.95 L762.48,1232.22 L764.25,1232.50 L766.02,1232.77 L767.79,1233.04 L769.56,1233.31 L771.32,1233.58 L773.09,1233.85 L774.86,1234.12 L776.63,1234.38 L778.40,1234.65 L780.17,1234.91 L781.94,1235.17 L783.70,1235.44 L785.47,1235.70 L787.24,1235.96 L789.01,1236.22 L790.78,1236.48 L792.55,1236.73 L794.31,1236.99 L796.08,1237.24 L797.85,1237.50 L799.62,1237.75 L801.39,1238.01 L803.16,1238.26 L804.93,1238.51 L806.69,1238.76 L808.46,1239.01 L810.23,1239.25 L812.00,1239.50" fill="none" stroke="#ff0000" stroke-width="3.15" clip-path="url(#cb)"/>
<path d="M104.60,1008.28 L106.37,1012.12 L108.14,1015.90 L109.91,1019.63 L111.67,1023.31 L113.44,1026.93 L115.21,1030.50 L116.98,1034.02 L118.75,1037.49 L120.52,1040.92 L122.28,1044.29 L124.05,1047.62 L125.82,1050.90 L127.59,1054.14 L129.36,1057.33 L131.13,1060.48 L132.90,1063.59 L134.66,1066.66 L136.43,1069.69 L138.20,1072.67 L139.97,1075.62 L141.74,1078.54 L143.51,1081.41 L145.28,1084.25 L147.04,1087.05 L148.81,1089.81 L150.58,1092.55 L152.35,1095.24 L154.12,1097.91 L155.89,1100.54 L157.66,1103.14 L159.42,1105.71 L161.19,1108.25 L162.96,1110.75 L164.73,1113.23 L166.50,1115.68 L168.27,1118.10 L170.03,1120.49 L171.80,1122.85 L173.57,1125.19 L175.34,1127.50 L177.11,1129.78 L178.88,1132.04 L180.65,1134.27 L182.41,1136.48 L184.18,1138.66 L185.95,1140.82 L187.72,1142.95 L189.49,1145.06 L191.26,1147.15 L193.02,1149.22 L194.79,1151.26 L196.56,1153.28 L198.33,1155.28 L200.10,1157.26 L201.87,1159.22 L203.64,1161.15 L205.40,1163.07 L207.17,1164.97 L208.94,1166.85 L210.71,1168.71 L212.48,1170.54 L214.25,1172.37 L216.02,1174.17 L217.78,1175.95 L219.55,1177.72 L221.32,1179.47 L223.09,1181.20 L224.86,1182.91 L226.63,1184.61 L228.39,1186.29 L230.16,1187.96 L231.93,1189.61 L233.70,1191.24 L235.47,1192.86 L237.24,1194.46 L239.01,1196.05 L240.77,1197.62 L242.54,1199.18 L244.31,1200.72 L246.08,1202.25 L247.85,1203.76 L249.62,1205.26 L251.39,1206.75 L253.15,1208.22 L254.92,1209.69 L256.69,1211.13 L258.46,1212.57 L260.23,1213.99 L262.00,1215.40 L263.76,1216.79 L265.53,1218.18 L267.30,1219.55 L269.07,1220.91 L270.84,1222.26 L272.61,1223.59 L274.38,1224.92 L276.14,1226.23 L277.91,1227.53 L279.68,1228.82 L281.45,1230.10 L283.22,1231.37 L284.99,1232.63 L286.76,1233.88 L288.52,1235.12 L290.29,1236.35 L292.06,1237.57 L293.83,1238.77 L295.60,1239.97 L297.37,1241.16 L299.13,1242.34 L300.90,1243.51 L302.67,1244.67 L304.44,1245.82 L306.21,1246.96 L307.98,1248.09 L309.75,1249.22 L311.51,1250.33 L313.28,1251.44 L315.05,1252.53 L316.82,1253.62 L318.59,1254.70 L320.36,1255.78 L322.13,1256.84 L323.89,1257.90 L325.66,1258.94 L327.43,1259.98 L329.20,1261.02 L330.97,1262.04 L332.74,1263.06 L334.50,1264.07 L336.27,1265.07 L338.04,1266.06 L339.81,1267.05 L341.58,1268.03 L343.35,1269.00 L345.12,1269.97 L346.88,1270.93 L348.65,1271.88 L350.42,1272.82 L352.19,1273.76 L353.96,1274.69 L355.73,1275.62 L357.50,1276.53 L359.26,1277.45 L361.03,1278.35 L362.80,1279.25 L364.57,1280.14 L366.34,1281.03 L368.11,1281.91 L369.88,1282.79 L371.64,1283.65 L373.41,1284.52 L375.18,1285.37 L376.95,1286.22 L378.72,1287.07 L380.49,1287.91 L382.25,1288.74 L384.02,1289.57 L385.79,1290.39 L387.56,1291.21 L389.33,1292.02 L391.10,1292.83 L392.87,1293.63 L394.63,1294.43 L396.40,1295.22 L398.17,1296.01 L399.94,1296.79 L401.71,1297.56 L403.48,1298.33 L405.25,1299.10 L407.01,1299.86 L408.78,1300.62 L410.55,1301.37 L412.32,1302.11 L414.09,1302.86 L415.86,1303.59 L417.62,1304.33 L419.39,1305.06 L421.16,1305.78 L422.93,1306.50 L424.70,1307.21 L426.47,1307.92 L428.24,1308.63 L430.00,1309.33 L431.77,1310.03 L433.54,1310.72 L435.31,1311.41 L437.08,1312.10 L438.85,1312.78 L440.62,1313.46 L442.38,1314.13 L444.15,1314.80 L445.92,1315.46 L447.69,1316.13 L449.46,1316.78 L451.23,1317.44 L452.99,1318.09 L454.76,1318.73 L456.53,1319.38 L458.30,1320.01 L460.07,1320.65 L461.84,1321.28 L463.61,1321.91 L465.37,1322.53 L467.14,1323.15 L468.91,1323.77 L470.68,1324.39 L472.45,1325.00 L474.22,1325.60 L475.99,1326.21 L477.75,1326.81 L479.52,1327.40 L481.29,1328.00 L483.06,1328.59 L484.83,1329.18 L486.60,1329.76 L488.36,1330.34 L490.13,1330.92 L491.90,1331.49 L493.67,1332.07 L495.44,1332.63 L497.21,1333.20 L498.98,1333.76 L500.74,1334.32 L502.51,1334.88 L504.28,1335.43 L506.05,1335.98 L507.82,1336.53 L509.59,1337.08 L511.35,1337.62 L513.12,1338.16 L514.89,1338.70 L516.66,1339.23 L518.43,1339.76 L520.20,1340.29 L521.97,1340.82 L523.73,1341.34 L525.50,1341.86 L527.27,1342.38 L529.04,1342.89 L530.81,1343.41 L532.58,1343.92 L534.35,1344.43 L536.11,1344.93 L537.88,1345.43 L539.65,1345.93 L541.42,1346.43 L543.19,1346.93 L544.96,1347.42 L546.73,1347.91 L548.49,1348.40 L550.26,1348.89 L552.03,1349.37 L553.80,1349.85 L555.57,1350.33 L557.34,1350.81 L559.10,1351.28 L560.87,1351.76 L562.64,1352.23 L564.41,1352.69 L566.18,1353.16 L567.95,1353.62 L569.72,1354.08 L571.48,1354.54 L573.25,1355.00 L575.02,1355.46 L576.79,1355.91 L578.56,1356.36 L580.33,1356.81 L582.10,1357.26 L583.86,1357.70 L585.63,1358.15 L587.40,1358.59 L589.17,1359.03 L590.94,1359.46 L592.71,1359.90 L594.47,1360.33 L596.24,1360.76 L598.01,1361.19 L599.78,1361.62 L601.55,1362.05 L603.32,1362.47 L605.09,1362.89 L606.85,1363.31 L608.62,1363.73 L610.39,1364.15 L612.16,1364.56 L613.93,1364.98 L615.70,1365.39 L617.47,1365.80 L619.23,1366.21 L621.00,1366.61 L622.77,1367.02 L624.54,1367.42 L626.31,1367.82 L628.08,1368.22 L629.84,1368.62 L631.61,1369.02 L633.38,1369.41 L635.15,1369.81 L636.92,1370.20 L638.69,1370.59 L640.46,1370.98 L642.22,1371.36 L643.99,1371.75 L645.76,1372.13 L647.53,1372.52 L649.30,1372.90 L651.07,1373.28 L652.84,1373.66 L654.60,1374.03 L656.37,1374.41 L658.14,1374.78 L659.91,1375.15 L661.68,1375.52 L663.45,1375.89 L665.21,1376.26 L666.98,1376.63 L668.75,1376.99 L670.52,1377.36 L672.29,1377.72 L674.06,1378.08 L675.83,1378.44 L677.59,1378.80 L679.36,1379.16 L681.13,1379.52 L682.90,1379.87 L684.67,1380.22 L686.44,1380.58 L688.20,1380.93 L689.97,1381.28 L691.74,1381.63 L693.51,1381.97 L695.28,1382.32 L697.05,1382.66 L698.82,1383.01 L700.58,1383.35 L702.35,1383.69 L704.12,1384.03 L705.89,1384.37 L707.66,1384.71 L709.43,1385.05 L711.20,1385.38 L712.96,1385.72 L714.73,1386.05 L716.50,1386.38 L718.27,1386.71 L720.04,1387.04 L721.81,1387.37 L723.58,1387.70 L725.34,1388.03 L727.11,1388.36 L728.88,1388.68 L730.65,1389.00 L732.42,1389.33 L734.19,1389.65 L735.95,1389.97 L737.72,1390.29 L739.49,1390.61 L741.26,1390.93 L743.03,1391.24 L744.80,1391.56 L746.57,1391.88 L748.33,1392.19 L750.10,1392.50 L751.87,1392.82 L753.64,1393.13 L755.41,1393.44 L757.18,1393.75 L758.95,1394.06 L760.71,1394.36 L762.48,1394.67 L764.25,1394.98 L766.02,1395.28 L767.79,1395.59 L769.56,1395.89 L771.32,1396.19 L773.09,1396.50 L774.86,1396.80 L776.63,1397.10 L778.40,1397.40 L780.17,1397.70 L781.94,1398.00 L783.70,1398.29 L785.47,1398.59 L787.24,1398.89 L789.01,1399.18 L790.78,1399.48 L792.55,1399.77 L794.31,1400.06 L796.08,1400.36 L797.85,1400.65 L799.62,1400.94 L801.39,1401.23 L803.16,1401.52 L804.93,1401.81 L806.69,1402.10 L808.46,1402.38 L810.23,1402.67 L812.00,1402.96" fill="none" stroke="#0000ff" stroke-width="3.15" stroke-dasharray="21.75,9.3" stroke-dashoffset="10.60" clip-path="url(#cb)"/>
<path d="M104.60,928.32 L106.37,932.15 L108.14,935.92 L109.91,939.64 L111.67,943.30 L113.44,946.91 L115.21,950.47 L116.98,953.98 L118.75,957.44 L120.52,960.85 L122.28,964.21 L124.05,967.52 L125.82,970.79 L127.59,974.02 L129.36,977.20 L131.13,980.34 L132.90,983.43 L134.66,986.49 L136.43,989.50 L138.20,992.48 L139.97,995.41 L141.74,998.31 L143.51,1001.17 L145.28,1004.00 L147.04,1006.79 L148.81,1009.54 L150.58,1012.26 L152.35,1014.94 L154.12,1017.59 L155.89,1020.21 L157.66,1022.80 L159.42,1025.35 L161.19,1027.88 L162.96,1030.37 L164.73,1032.84 L166.50,1035.27 L168.27,1037.68 L170.03,1040.06 L171.80,1042.41 L173.57,1044.73 L175.34,1047.02 L177.11,1049.29 L178.88,1051.54 L180.65,1053.76 L182.41,1055.95 L184.18,1058.12 L185.95,1060.26 L187.72,1062.38 L189.49,1064.48 L191.26,1066.56 L193.02,1068.61 L194.79,1070.64 L196.56,1072.64 L198.33,1074.63 L200.10,1076.59 L201.87,1078.54 L203.64,1080.46 L205.40,1082.37 L207.17,1084.25 L208.94,1086.11 L210.71,1087.96 L212.48,1089.78 L214.25,1091.59 L216.02,1093.38 L217.78,1095.15 L219.55,1096.90 L221.32,1098.63 L223.09,1100.35 L224.86,1102.05 L226.63,1103.74 L228.39,1105.40 L230.16,1107.05 L231.93,1108.69 L233.70,1110.31 L235.47,1111.91 L237.24,1113.50 L239.01,1115.07 L240.77,1116.63 L242.54,1118.17 L244.31,1119.70 L246.08,1121.21 L247.85,1122.71 L249.62,1124.20 L251.39,1125.67 L253.15,1127.13 L254.92,1128.58 L256.69,1130.01 L258.46,1131.43 L260.23,1132.83 L262.00,1134.23 L263.76,1135.61 L265.53,1136.98 L267.30,1138.33 L269.07,1139.68 L270.84,1141.01 L272.61,1142.33 L274.38,1143.64 L276.14,1144.94 L277.91,1146.23 L279.68,1147.50 L281.45,1148.77 L283.22,1150.02 L284.99,1151.27 L286.76,1152.50 L288.52,1153.72 L290.29,1154.94 L292.06,1156.14 L293.83,1157.33 L295.60,1158.51 L297.37,1159.69 L299.13,1160.85 L300.90,1162.00 L302.67,1163.15 L304.44,1164.28 L306.21,1165.41 L307.98,1166.52 L309.75,1167.63 L311.51,1168.73 L313.28,1169.82 L315.05,1170.90 L316.82,1171.97 L318.59,1173.04 L320.36,1174.10 L322.13,1175.14 L323.89,1176.18 L325.66,1177.21 L327.43,1178.24 L329.20,1179.25 L330.97,1180.26 L332.74,1181.26 L334.50,1182.26 L336.27,1183.24 L338.04,1184.22 L339.81,1185.19 L341.58,1186.15 L343.35,1187.11 L345.12,1188.06 L346.88,1189.00 L348.65,1189.93 L350.42,1190.86 L352.19,1191.78 L353.96,1192.70 L355.73,1193.61 L357.50,1194.51 L359.26,1195.40 L361.03,1196.29 L362.80,1197.17 L364.57,1198.05 L366.34,1198.92 L368.11,1199.78 L369.88,1200.64 L371.64,1201.49 L373.41,1202.34 L375.18,1203.18 L376.95,1204.01 L378.72,1204.84 L380.49,1205.66 L382.25,1206.48 L384.02,1207.29 L385.79,1208.09 L387.56,1208.89 L389.33,1209.69 L391.10,1210.48 L392.87,1211.26 L394.63,1212.04 L396.40,1212.81 L398.17,1213.58 L399.94,1214.34 L401.71,1215.10 L403.48,1215.85 L405.25,1216.60 L407.01,1217.34 L408.78,1218.08 L410.55,1218.81 L412.32,1219.54 L414.09,1220.27 L415.86,1220.99 L417.62,1221.70 L419.39,1222.41 L421.16,1223.11 L422.93,1223.82 L424.70,1224.51 L426.47,1225.20 L428.24,1225.89 L430.00,1226.57 L431.77,1227.25 L433.54,1227.93 L435.31,1228.60 L437.08,1229.27 L438.85,1229.93 L440.62,1230.59 L442.38,1231.24 L444.15,1231.89 L445.92,1232.54 L447.69,1233.18 L449.46,1233.82 L451.23,1234.45 L452.99,1235.08 L454.76,1235.71 L456.53,1236.33 L458.30,1236.95 L460.07,1237.56 L461.84,1238.18 L463.61,1238.78 L465.37,1239.39 L467.14,1239.99 L468.91,1240.59 L470.68,1241.18 L472.45,1241.77 L474.22,1242.36 L475.99,1242.94 L477.75,1243.52 L479.52,1244.10 L481.29,1244.67 L483.06,1245.24 L484.83,1245.81 L486.60,1246.37 L488.36,1246.93 L490.13,1247.49 L491.90,1248.04 L493.67,1248.60 L495.44,1249.14 L497.21,1249.69 L498.98,1250.23 L500.74,1250.77 L502.51,1251.30 L504.28,1251.84 L506.05,1252.37 L507.82,1252.89 L509.59,1253.42 L511.35,1253.94 L513.12,1254.46 L514.89,1254.97 L516.66,1255.48 L518.43,1255.99 L520.20,1256.50 L521.97,1257.00 L523.73,1257.51 L525.50,1258.00 L527.27,1258.50 L529.04,1258.99 L530.81,1259.48 L532.58,1259.97 L534.35,1260.46 L536.11,1260.94 L537.88,1261.42 L539.65,1261.90 L541.42,1262.37 L543.19,1262.85 L544.96,1263.32 L546.73,1263.79 L548.49,1264.25 L550.26,1264.71 L552.03,1265.18 L553.80,1265.63 L555.57,1266.09 L557.34,1266.54 L559.10,1266.99 L560.87,1267.44 L562.64,1267.89 L564.41,1268.33 L566.18,1268.78 L567.95,1269.22 L569.72,1269.65 L571.48,1270.09 L573.25,1270.52 L575.02,1270.95 L576.79,1271.38 L578.56,1271.81 L580.33,1272.24 L582.10,1272.66 L583.86,1273.08 L585.63,1273.50 L587.40,1273.91 L589.17,1274.33 L590.94,1274.74 L592.71,1275.15 L594.47,1275.56 L596.24,1275.96 L598.01,1276.37 L599.78,1276.77 L601.55,1277.17 L603.32,1277.57 L605.09,1277.97 L606.85,1278.36 L608.62,1278.75 L610.39,1279.15 L612.16,1279.53 L613.93,1279.92 L615.70,1280.31 L617.47,1280.69 L619.23,1281.07 L621.00,1281.45 L622.77,1281.83 L624.54,1282.21 L626.31,1282.58 L628.08,1282.96 L629.84,1283.33 L631.61,1283.70 L633.38,1284.06 L635.15,1284.43 L636.92,1284.79 L638.69,1285.16 L640.46,1285.52 L642.22,1285.88 L643.99,1286.24 L645.76,1286.59 L647.53,1286.95 L649.30,1287.30 L651.07,1287.65 L652.84,1288.00 L654.60,1288.35 L656.37,1288.69 L658.14,1289.04 L659.91,1289.38 L661.68,1289.73 L663.45,1290.07 L665.21,1290.40 L666.98,1290.74 L668.75,1291.08 L670.52,1291.41 L672.29,1291.75 L674.06,1292.08 L675.83,1292.41 L677.59,1292.74 L679.36,1293.06 L681.13,1293.39 L682.90,1293.71 L684.67,1294.04 L686.44,1294.36 L688.20,1294.68 L689.97,1295.00 L691.74,1295.31 L693.51,1295.63 L695.28,1295.94 L697.05,1296.26 L698.82,1296.57 L700.58,1296.88 L702.35,1297.19 L704.12,1297.50 L705.89,1297.80 L707.66,1298.11 L709.43,1298.41 L711.20,1298.72 L712.96,1299.02 L714.73,1299.32 L716.50,1299.62 L718.27,1299.92 L720.04,1300.21 L721.81,1300.51 L723.58,1300.80 L725.34,1301.10 L727.11,1301.39 L728.88,1301.68 L730.65,1301.97 L732.42,1302.26 L734.19,1302.54 L735.95,1302.83 L737.72,1303.11 L739.49,1303.40 L741.26,1303.68 L743.03,1303.96 L744.80,1304.24 L746.57,1304.52 L748.33,1304.80 L750.10,1305.07 L751.87,1305.35 L753.64,1305.62 L755.41,1305.90 L757.18,1306.17 L758.95,1306.44 L760.71,1306.71 L762.48,1306.98 L764.25,1307.25 L766.02,1307.52 L767.79,1307.78 L769.56,1308.05 L771.32,1308.31 L773.09,1308.57 L774.86,1308.83 L776.63,1309.10 L778.40,1309.36 L780.17,1309.61 L781.94,1309.87 L783.70,1310.13 L785.47,1310.38 L787.24,1310.64 L789.01,1310.89 L790.78,1311.15 L792.55,1311.40 L794.31,1311.65 L796.08,1311.90 L797.85,1312.15 L799.62,1312.40 L801.39,1312.64 L803.16,1312.89 L804.93,1313.13 L806.69,1313.38 L808.46,1313.62 L810.23,1313.86 L812.00,1314.11" fill="none" stroke="#008b00" stroke-width="3.15" stroke-dasharray="3.2,9.25,21.6,9.22" stroke-dashoffset="0.00" clip-path="url(#cb)"/>
<rect x="133" y="2.2" width="322.5" height="196.2" fill="#fff" stroke="#000" stroke-width="2.5"/>
<path d="M148.9,102.05 H232.2" stroke="#ff0000" stroke-width="3.15" fill="none"/>
<path d="M148.9,137.1 H232.2" stroke="#0000ff" stroke-width="3.15" fill="none" stroke-dasharray="21.7,9.3"/>
<path d="M148.9,172.3 H232.2" stroke="#008b00" stroke-width="3.15" fill="none" stroke-dasharray="3.2,9.3,21.7,9.3"/>
<path d="M188.40,24.00 L190.60,22.70 L196.10,36.50 L202.10,12.10 H223.20" fill="none" stroke="#000" stroke-width="1.3" stroke-linejoin="miter" stroke-miterlimit="6"/>
<path d="M190.90,23.40 L195.60,35.20" fill="none" stroke="#000" stroke-width="2.6"/>
<path d="M369.60,24.00 L371.80,22.70 L377.30,36.50 L383.30,12.10 H403.70" fill="none" stroke="#000" stroke-width="1.3" stroke-linejoin="miter" stroke-miterlimit="6"/>
<path d="M372.10,23.40 L376.80,35.20" fill="none" stroke="#000" stroke-width="2.6"/>
<text transform="translate(79.00,699.10) scale(1,1.030)" font-size="37" >0</text>
<text transform="translate(79.00,587.68) scale(1,1.030)" font-size="37" >1</text>
<text transform="translate(79.00,477.47) scale(1,1.030)" font-size="37" >2</text>
<text transform="translate(79.00,366.35) scale(1,1.030)" font-size="37" >3</text>
<text transform="translate(78.00,253.53) scale(1,1.030)" font-size="37" >4</text>
<text transform="translate(79.00,142.42) scale(1,1.030)" font-size="37" >5</text>
<text transform="translate(78.80,33.10) scale(1,1.030)" font-size="37" >6</text>
<text transform="translate(104.60,719.60) scale(1,1.030)" font-size="37" text-anchor="middle">0</text>
<text transform="translate(281.45,719.60) scale(1,1.030)" font-size="37" text-anchor="middle">10</text>
<text transform="translate(458.30,719.60) scale(1,1.030)" font-size="37" text-anchor="middle">20</text>
<text transform="translate(635.15,719.60) scale(1,1.030)" font-size="37" text-anchor="middle">30</text>
<text transform="translate(812.00,719.60) scale(1,1.030)" font-size="37" text-anchor="middle">40</text>
<text transform="translate(79.10,1455.50) scale(1,1.030)" font-size="37" >0</text>
<text transform="translate(52.10,1360.39) scale(1,1.030)" font-size="37" >0.2</text>
<text transform="translate(50.10,1265.27) scale(1,1.030)" font-size="37" >0.4</text>
<text transform="translate(51.10,1170.16) scale(1,1.030)" font-size="37" >0.6</text>
<text transform="translate(51.10,1075.04) scale(1,1.030)" font-size="37" >0.8</text>
<text transform="translate(79.10,979.93) scale(1,1.030)" font-size="37" >1</text>
<text transform="translate(52.10,884.81) scale(1,1.030)" font-size="37" >1.2</text>
<text transform="translate(50.10,789.70) scale(1,1.030)" font-size="37" >1.4</text>
<text transform="translate(104.60,1476.20) scale(1,1.030)" font-size="37" text-anchor="middle">10</text>
<text transform="translate(222.50,1476.20) scale(1,1.030)" font-size="37" text-anchor="middle">15</text>
<text transform="translate(340.40,1476.20) scale(1,1.030)" font-size="37" text-anchor="middle">20</text>
<text transform="translate(458.30,1476.20) scale(1,1.030)" font-size="37" text-anchor="middle">25</text>
<text transform="translate(576.20,1476.20) scale(1,1.030)" font-size="37" text-anchor="middle">30</text>
<text transform="translate(694.10,1476.20) scale(1,1.030)" font-size="37" text-anchor="middle">35</text>
<text transform="translate(812.00,1476.20) scale(1,1.030)" font-size="37" text-anchor="middle">40</text>
<text transform="translate(432.00,755.10) scale(1,1.030)" font-size="38" >(</text>
<text transform="translate(445.50,755.10) scale(1,1.030)" font-size="38" >m</text>
<text transform="translate(475.00,755.10) scale(1,1.030)" font-size="38" >e</text>
<text transform="translate(491.80,755.10) scale(1,1.030)" font-size="38" >V</text>
<text transform="translate(520.40,755.10) scale(1,1.030)" font-size="38" >)</text>
<text transform="translate(432.00,1511.80) scale(1,1.030)" font-size="38" >(</text>
<text transform="translate(445.50,1511.80) scale(1,1.030)" font-size="38" >m</text>
<text transform="translate(475.00,1511.80) scale(1,1.030)" font-size="38" >e</text>
<text transform="translate(491.80,1511.80) scale(1,1.030)" font-size="38" >V</text>
<text transform="translate(520.40,1511.80) scale(1,1.030)" font-size="38" >)</text>
<text transform="translate(55.30,479.60) rotate(-90) translate(0.00,0.00) scale(1.000,1.030)" font-size="38" >W</text>
<text transform="translate(55.30,479.60) rotate(-90) translate(34.60,15.00) scale(1.000,1.030)" font-size="27" >CR</text>
<text transform="translate(55.30,479.60) rotate(-90) translate(76.50,2.20) scale(1.000,1.030)" font-size="38" >[</text>
<text transform="translate(55.30,479.60) rotate(-90) translate(89.60,0.00) scale(1.000,1.030)" font-size="38" >e</text>
<text transform="translate(55.30,479.60) rotate(-90) translate(105.90,-23.30) scale(1.000,1.030)" font-size="27" >2</text>
<text transform="translate(55.30,479.60) rotate(-90) translate(120.40,0.00) scale(1.000,1.030)" font-size="38" >/</text>
<text transform="translate(55.30,479.60) rotate(-90) translate(131.26,0.00) scale(1.140,1.030)" font-size="39.5" font-style="italic">ħ</text>
<text transform="translate(55.30,479.60) rotate(-90) translate(166.10,0.00) scale(1.000,1.030)" font-size="38" >m</text>
<text transform="translate(55.30,479.60) rotate(-90) translate(197.40,0.00) scale(1.000,1.030)" font-size="38" >e</text>
<text transform="translate(55.30,479.60) rotate(-90) translate(214.30,0.00) scale(1.000,1.030)" font-size="38" >V</text>
<text transform="translate(55.30,479.60) rotate(-90) translate(241.70,2.20) scale(1.000,1.030)" font-size="38" >]</text>
<text transform="translate(27.40,1194.20) rotate(-90) translate(-1.00,0.00) scale(1.000,1.030)" font-size="41" stroke="#000" stroke-width="0.5">ω</text>
<text transform="translate(27.40,1194.20) rotate(-90) translate(25.60,15.00) scale(1.000,1.030)" font-size="27" >CR</text>
<text transform="translate(27.40,1194.20) rotate(-90) translate(66.50,0.00) scale(1.000,1.030)" font-size="38" >(</text>
<text transform="translate(27.40,1194.20) rotate(-90) translate(79.90,0.00) scale(1.000,1.030)" font-size="38" >m</text>
<text transform="translate(27.40,1194.20) rotate(-90) translate(110.20,0.00) scale(1.000,1.030)" font-size="38" >e</text>
<text transform="translate(27.40,1194.20) rotate(-90) translate(126.80,0.00) scale(1.000,1.030)" font-size="38" >V</text>
<text transform="translate(27.40,1194.20) rotate(-90) translate(154.60,0.00) scale(1.000,1.030)" font-size="38" >)</text>
<text transform="translate(754.00,655.60) scale(1,1.030)" font-size="33" >(a)</text>
<text transform="translate(754.00,836.60) scale(1,1.030)" font-size="33" >(b)</text>
<text transform="translate(162.30,862.00) scale(1,1.030)" font-size="30.6" >B=0.1T</text>
<text transform="translate(149.50,36.20) scale(1,1.030)" font-size="30" >E</text>
<text transform="translate(169.00,42.90) scale(1,1.030)" font-size="21" >1</text>
<text transform="translate(178.50,36.20) scale(1,1.030)" font-size="30" >/</text>
<text transform="translate(202.50,36.20) scale(1,1.030)" font-size="30" >B</text>
<text transform="translate(222.40,36.20) scale(1,1.030)" font-size="30" >=</text>
<text transform="translate(240.80,36.20) scale(1,1.030)" font-size="30" >10.4</text>
<text transform="translate(301.00,36.20) scale(1,1.030)" font-size="30" >meV/</text>
<text transform="translate(384.80,36.20) scale(1,1.030)" font-size="30" >T</text>
<text transform="translate(149.50,74.50) scale(1,1.030)" font-size="30" >E</text>
<text transform="translate(167.50,81.20) scale(1,1.030)" font-size="21" >0</text>
<text transform="translate(178.90,74.50) scale(1,1.030)" font-size="30" >/B=1.1</text>
<text transform="translate(270.40,74.50) scale(1,1.030)" font-size="30" >meV/</text>
<text transform="translate(339.80,74.50) scale(1,1.030)" font-size="30" >T</text>
<text transform="translate(264.60,109.30) scale(1,1.030)" font-size="30" >&gt;</text>
<text transform="translate(283.10,109.30) scale(1,1.030)" font-size="30" >0</text>
<text transform="translate(263.60,144.30) scale(1,1.030)" font-size="30" >&lt;</text>
<text transform="translate(283.10,144.30) scale(1,1.030)" font-size="30" >0</text>
<text transform="translate(248.80,179.60) scale(1,1.030)" font-size="30" >Pure Relativistic</text>
<rect x="388.2" y="728.90" width="2.9" height="32.9" fill="#000"/>
<rect x="418.0" y="728.90" width="2.9" height="32.9" fill="#000"/>
<path transform="translate(394.80,755.10) scale(1.0000)" d="M0.9,-19.2 L4.2,-19.2 L4.2,-6.0 C5.0,-3.2 6.3,-2.5 7.6,-2.5 C9.4,-2.5 11.3,-3.6 12.35,-5.6 L12.35,-19.2 L15.5,-19.2 L15.5,-4.2 C15.5,-2.0 16.3,-1.5 17.2,-1.5 C18.4,-1.5 19.2,-3.0 19.6,-4.8 L20.2,-4.5 C19.9,-1.8 18.6,0.2 16.6,0.2 C14.8,0.2 13.5,-0.8 12.8,-2.6 C11.4,-0.6 9.0,0.2 7.0,0.2 C5.6,0.2 4.4,-0.2 3.6,-1.0 C3.3,1.0 3.9,3.5 3.9,5.5 C3.9,7.0 3.0,8.0 1.8,8.0 C0.6,8.0 -0.2,7.0 -0.2,5.6 C-0.2,3.5 0.9,1.0 0.9,-2.0 Z" fill="#000"/>
<rect x="388.2" y="1485.60" width="2.9" height="32.9" fill="#000"/>
<rect x="418.0" y="1485.60" width="2.9" height="32.9" fill="#000"/>
<path transform="translate(394.80,1511.80) scale(1.0000)" d="M0.9,-19.2 L4.2,-19.2 L4.2,-6.0 C5.0,-3.2 6.3,-2.5 7.6,-2.5 C9.4,-2.5 11.3,-3.6 12.35,-5.6 L12.35,-19.2 L15.5,-19.2 L15.5,-4.2 C15.5,-2.0 16.3,-1.5 17.2,-1.5 C18.4,-1.5 19.2,-3.0 19.6,-4.8 L20.2,-4.5 C19.9,-1.8 18.6,0.2 16.6,0.2 C14.8,0.2 13.5,-0.8 12.8,-2.6 C11.4,-0.6 9.0,0.2 7.0,0.2 C5.6,0.2 4.4,-0.2 3.6,-1.0 C3.3,1.0 3.9,3.5 3.9,5.5 C3.9,7.0 3.0,8.0 1.8,8.0 C0.6,8.0 -0.2,7.0 -0.2,5.6 C-0.2,3.5 0.9,1.0 0.9,-2.0 Z" fill="#000"/>
<path transform="translate(249.80,109.30) scale(0.7500)" d="M0.9,-19.2 L4.2,-19.2 L4.2,-6.0 C5.0,-3.2 6.3,-2.5 7.6,-2.5 C9.4,-2.5 11.3,-3.6 12.35,-5.6 L12.35,-19.2 L15.5,-19.2 L15.5,-4.2 C15.5,-2.0 16.3,-1.5 17.2,-1.5 C18.4,-1.5 19.2,-3.0 19.6,-4.8 L20.2,-4.5 C19.9,-1.8 18.6,0.2 16.6,0.2 C14.8,0.2 13.5,-0.8 12.8,-2.6 C11.4,-0.6 9.0,0.2 7.0,0.2 C5.6,0.2 4.4,-0.2 3.6,-1.0 C3.3,1.0 3.9,3.5 3.9,5.5 C3.9,7.0 3.0,8.0 1.8,8.0 C0.6,8.0 -0.2,7.0 -0.2,5.6 C-0.2,3.5 0.9,1.0 0.9,-2.0 Z" fill="#000"/>
<path transform="translate(249.80,144.30) scale(0.7500)" d="M0.9,-19.2 L4.2,-19.2 L4.2,-6.0 C5.0,-3.2 6.3,-2.5 7.6,-2.5 C9.4,-2.5 11.3,-3.6 12.35,-5.6 L12.35,-19.2 L15.5,-19.2 L15.5,-4.2 C15.5,-2.0 16.3,-1.5 17.2,-1.5 C18.4,-1.5 19.2,-3.0 19.6,-4.8 L20.2,-4.5 C19.9,-1.8 18.6,0.2 16.6,0.2 C14.8,0.2 13.5,-0.8 12.8,-2.6 C11.4,-0.6 9.0,0.2 7.0,0.2 C5.6,0.2 4.4,-0.2 3.6,-1.0 C3.3,1.0 3.9,3.5 3.9,5.5 C3.9,7.0 3.0,8.0 1.8,8.0 C0.6,8.0 -0.2,7.0 -0.2,5.6 C-0.2,3.5 0.9,1.0 0.9,-2.0 Z" fill="#000"/>
</svg></body></html>
